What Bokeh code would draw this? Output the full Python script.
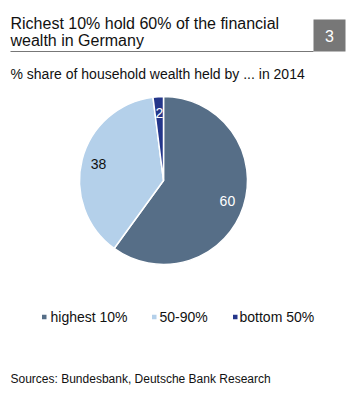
import math
from bokeh.plotting import figure
from bokeh.models import Range1d, ColumnDataSource
from bokeh.core.properties import value
from bokeh.embed import file_html
from bokeh.resources import INLINE

title_lines = ["Richest 10% hold 60% of the financial", "wealth in Germany"]
chart_number = "3"
subtitle = "% share of household wealth held by ... in 2014"
source_text = "Sources: Bundesbank, Deutsche Bank Research"
categories = ["highest 10%", "50-90%", "bottom 50%"]
shares = [60, 38, 2]
colors = ["#566E87", "#B4D0EA", "#24368A"]
label_colors = ["white", "#111111", "white"]

W, H = 350, 394
FONT = value("Liberation Sans")

def fy(img_y):
    return H - img_y

def fx(img_x):
    return img_x

p = figure(width=W, height=H, output_backend="svg", toolbar_location=None,
           x_range=Range1d(0, W), y_range=Range1d(0, H), min_border=0)
p.axis.visible = False
p.grid.visible = False
p.outline_line_color = None
p.background_fill_color = "white"
p.border_fill_color = "white"

# title
for i, t in enumerate(title_lines):
    p.text(x=[fx(10)], y=[fy(23 + i * 16.8)], text=[t], text_font=FONT,
           text_font_size="16px", text_color="#111111", text_baseline="alphabetic")

# number box
p.quad(left=[fx(313)], right=[fx(345)], top=[fy(19)], bottom=[fy(51)],
       fill_color="#777777", line_color=None)
p.text(x=[fx(329)], y=[fy(35)], text=[chart_number], text_font=FONT,
       text_font_size="16px", text_color="white", text_align="center",
       text_baseline="middle")
p.segment(x0=[fx(10)], y0=[fy(51)], x1=[fx(313)], y1=[fy(51)],
          line_color="#777777", line_width=1.2)

# subtitle
p.text(x=[fx(10)], y=[fy(73)], text=[subtitle], text_font=FONT,
       text_font_size="14px", text_color="#111111", text_baseline="alphabetic")

# pie
cx, cy, r = fx(163), fy(180), 84
total = sum(shares)
starts, ends, lx, ly = [], [], [], []
cum = 0
for s in shares:
    a0 = math.pi / 2 - 2 * math.pi * cum / total
    cum += s
    a1 = math.pi / 2 - 2 * math.pi * cum / total
    starts.append(a0)
    ends.append(a1)
    mid = (a0 + a1) / 2
    lr = 0.8 * r
    lx.append(cx + lr * math.cos(mid))
    ly.append(cy + lr * math.sin(mid))

src = ColumnDataSource(dict(start=starts, end=ends, color=colors,
                            cat=categories, lx=lx, ly=ly,
                            lab=[str(s) for s in shares], lc=label_colors))
p.wedge(x=cx, y=cy, radius=r, radius_units="screen", start_angle="start",
        end_angle="end", direction="clock", fill_color="color",
        line_color="white", line_width=1.5, source=src)
p.text(x="lx", y="ly", text="lab", text_color="lc", source=src, text_font=FONT,
       text_font_size="14px", text_align="center", text_baseline="middle")

# legend
sq_x = [fx(41.5), fx(151.5), fx(232.5)]
tx_x = [fx(50), fx(159), fx(239)]
leg_y = fy(316.5)
for x0, x1, c, t in zip(sq_x, tx_x, colors, categories):
    p.rect(x=[x0 + 2.25], y=[leg_y], width=4.5, height=4.5, fill_color=c, line_color=None)
    p.text(x=[x1], y=[leg_y], text=[t], text_font=FONT, text_font_size="14px",
           text_color="#111111", text_baseline="middle")

# source
p.text(x=[fx(10)], y=[fy(378)], text=[source_text], text_font=FONT,
       text_font_size="12px", text_color="#111111", text_baseline="alphabetic")

open("out.html", "w").write(file_html(p, INLINE))
